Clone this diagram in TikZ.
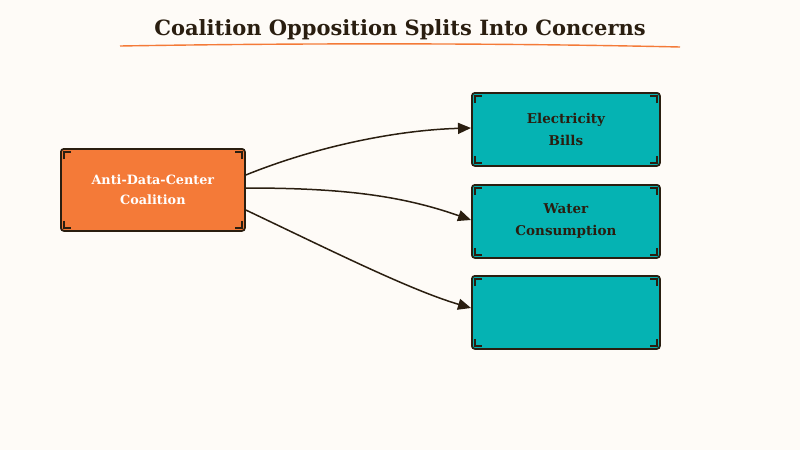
\documentclass[tikz,border=0pt]{standalone}
\usepackage{fontspec}
\setmainfont{DejaVu Serif}
\usetikzlibrary{arrows.meta}
\definecolor{bg}{HTML}{FEFBF7}
\definecolor{org}{HTML}{F47A38}
\definecolor{teal}{HTML}{05B3B3}
\definecolor{ink}{HTML}{2A1E10}
\begin{document}
\begin{tikzpicture}[x=1pt,y=-1pt,
  box/.style={draw=ink,line width=1.8pt,rounded corners=3pt,anchor=north west,inner sep=0pt,font=\bfseries\fontsize{13.5}{22}\selectfont,align=center},
  lnode/.style={box,fill=org,text=white,font=\bfseries\fontsize{12.8}{20}\selectfont,minimum width=184pt,minimum height=82pt},
  rnode/.style={box,fill=teal,text=ink,minimum width=188pt,minimum height=73pt},
  conn/.style={draw=ink,line width=1.5pt,-{Triangle[length=13pt,width=11pt]}}]
\fill[bg] (0,0) rectangle (800,450);
\node[font=\bfseries\fontsize{21}{25}\selectfont,text=ink] (t) at (400,30) {Coalition Opposition Splits Into Concerns};
\draw[org,line width=1.4pt] (120,46) .. controls (300,43) and (500,43) .. (680,47);
\node[lnode] (a) at (60,148) {Anti-Data-Center\\Coalition};
\node[rnode] (b) at (471,92) {Electricity\\Bills};
\node[rnode] (c) at (471,184) {Water\\Consumption};
\node[rnode] (d) at (471,275) {};
\foreach \n in {a,b,c,d}{
  \draw[ink,line width=1.4pt] ([shift={(4,11)}]\n.north west) -- ([shift={(4,4)}]\n.north west) -- ([shift={(11,4)}]\n.north west);
  \draw[ink,line width=1.4pt] ([shift={(-4,11)}]\n.north east) -- ([shift={(-4,4)}]\n.north east) -- ([shift={(-11,4)}]\n.north east);
  \draw[ink,line width=1.4pt] ([shift={(4,-11)}]\n.south west) -- ([shift={(4,-4)}]\n.south west) -- ([shift={(11,-4)}]\n.south west);
  \draw[ink,line width=1.4pt] ([shift={(-4,-11)}]\n.south east) -- ([shift={(-4,-4)}]\n.south east) -- ([shift={(-11,-4)}]\n.south east);
}
\draw[conn] ([yshift=-27]a.north east) .. controls (320,145) and (400,130) .. ([yshift=-36]b.north west);
\draw[conn] ([yshift=-40]a.north east) .. controls (340,188) and (400,195) .. ([yshift=-36]c.north west);
\draw[conn] ([yshift=-62]a.north east) .. controls (330,250) and (410,290) .. ([yshift=-33]d.north west);
\end{tikzpicture}
\end{document}
